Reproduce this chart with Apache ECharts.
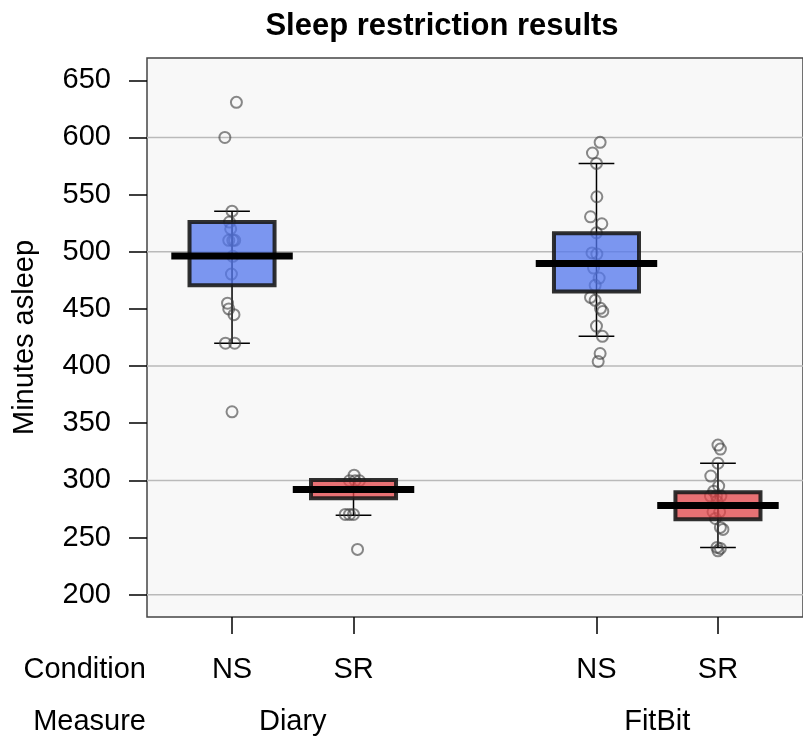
<!DOCTYPE html>
<html><head><meta charset="utf-8">
<script src="https://cdn.jsdelivr.net/npm/echarts@6/dist/echarts.min.js"></script>
<style>html,body{margin:0;padding:0;background:#fff}#c{width:803px;height:738px}</style>
</head><body><div id="c"></div>
<script>
// ---- data ----
const positions = [1, 2, 4, 5];
const conditions = ['NS', 'SR', 'NS', 'SR'];
const measures = ['Diary', 'FitBit'];
const measurePositions = [1.5, 4.5];
const yTicks = [200, 250, 300, 350, 400, 450, 500, 550, 600, 650];
const gridValues = [200, 300, 400, 500, 600];

const boxLow = [470.6, 284.3, 465.3, 266.0];
const boxHigh = [526.0, 300.3, 516.3, 289.7];
const medians = [496.2, 292.1, 489.8, 278.1];
const whiskerLow = [420.0, 269.6, 426.0, 241.4];
const whiskerHigh = [535.5, 300.0, 577.3, 315.0];

const nsDiary = [630.7, 600, 535.5, 526, 520, 510, 510, 510, 496, 480.5, 455, 450, 445, 420, 420, 360];
const nsDiaryJitter = [0.036, -0.059, 0, -0.021, -0.011, -0.027, 0.022, 0.006, 0.006, -0.005, -0.037, -0.027, 0.016, -0.054, 0.022, 0];
const srDiary = [304.6, 299.7, 299.7, 299.7, 270.2, 270.2, 270.2, 239.6];
const srDiaryJitter = [0.005, -0.033, 0.013, 0.049, -0.068, -0.033, 0, 0.033];
const nsFitBit = [595.7, 586.4, 577.3, 548.1, 530.6, 524.5, 516.6, 499, 498, 485.7, 477, 470.6, 460.1, 457.5, 450.5, 447.8, 435, 426, 411, 404];
const nsFitBitJitter = [0.030, -0.033, 0, 0.003, -0.049, 0.044, 0, -0.037, 0.003, -0.024, 0.022, -0.011, -0.049, -0.011, 0.033, 0.052, 0, 0.049, 0.030, 0.014];
const srFitBit = [330.9, 327.4, 315, 303.8, 295, 290.6, 286.3, 286.3, 286.3, 281.7, 272.5, 272.5, 266.7, 258.9, 257.1, 241.4, 240.5, 238.4];
const srFitBitJitter = [0, 0.020, 0, -0.059, 0.006, -0.035, -0.062, -0.013, 0.024, -0.008, -0.041, 0.014, -0.021, 0.020, 0.041, -0.008, 0.020, 0];

const groupValues = [nsDiary, srDiary, nsFitBit, srFitBit];
const groupJitter = [nsDiaryJitter, srDiaryJitter, nsFitBitJitter, srFitBitJitter];
const conditionColors = { NS: 'rgba(82,118,238,0.75)', SR: 'rgba(227,68,72,0.75)' };

// ---- build ----
const FONT = '"Liberation Sans", Arial, Helvetica, sans-serif';
const FS = 29;
const pointData = [];
groupValues.forEach((vals, g) => vals.forEach((v, i) => pointData.push([positions[g] + groupJitter[g][i], v])));
const statData = positions.map((p, i) => [p, boxLow[i], boxHigh[i], medians[i], whiskerLow[i], whiskerHigh[i], i]);

const chart = echarts.init(document.getElementById('c'), null, { renderer: 'canvas' });
const option = {
  animation: false,
  backgroundColor: '#ffffff',
  textStyle: { fontFamily: FONT },
  grid: { left: 147, top: 58, width: 663, height: 559, show: true, backgroundColor: '#f8f8f8', borderColor: '#444', borderWidth: 1.5 },
  graphic: [
    { type: 'text', x: 442, y: 26, style: { text: 'Sleep restriction results', font: 'bold 31px ' + FONT, fill: '#000', textAlign: 'center', textVerticalAlign: 'middle' } },
    { type: 'text', x: 146, y: 670, style: { text: 'Condition', font: FS + 'px ' + FONT, fill: '#000', textAlign: 'right', textVerticalAlign: 'middle' } },
    { type: 'text', x: 146, y: 722, style: { text: 'Measure', font: FS + 'px ' + FONT, fill: '#000', textAlign: 'right', textVerticalAlign: 'middle' } }
  ],
  xAxis: [
    {
      type: 'value', min: 0.3, max: 5.7, position: 'bottom',
      axisLine: { show: false },
      splitLine: { show: false },
      axisTick: { show: true, customValues: positions, length: 17, lineStyle: { color: '#000', width: 1.5 } },
      axisLabel: { show: true, customValues: positions, margin: 38, fontSize: FS, lineHeight: FS, color: '#000', fontFamily: FONT,
        formatter: v => conditions[positions.indexOf(v)] }
    },
    {
      type: 'value', min: 0.3, max: 5.7, position: 'bottom', offset: 52,
      axisLine: { show: false }, splitLine: { show: false }, axisTick: { show: false },
      axisLabel: { show: true, customValues: measurePositions, margin: 38, fontSize: FS, lineHeight: FS, color: '#000', fontFamily: FONT,
        formatter: v => measures[measurePositions.indexOf(v)] }
    }
  ],
  yAxis: {
    type: 'value', min: 180.5, max: 669.5,
    name: 'Minutes asleep', nameLocation: 'middle', nameGap: 108, nameRotate: 90,
    nameTextStyle: { fontSize: FS, color: '#000', fontFamily: FONT },
    axisLine: { show: false },
    splitLine: { show: false },
    axisTick: { show: true, customValues: yTicks, length: 18, lineStyle: { color: '#000', width: 1.5 } },
    axisLabel: { show: true, customValues: yTicks, margin: 36, fontSize: FS, color: '#000', fontFamily: FONT }
  },
  series: [
    {
      type: 'custom', name: 'grid', z: 1, silent: true,
      data: gridValues.map(v => [v]),
      renderItem: (params, api) => {
        const cs = params.coordSys;
        const y = api.coord([1, api.value(0)])[1];
        return { type: 'line', shape: { x1: cs.x, y1: y, x2: cs.x + cs.width, y2: y }, style: { stroke: '#bababa', lineWidth: 1.5 } };
      }
    },
    {
      type: 'custom', name: 'whiskers', z: 2, silent: true,
      data: statData,
      renderItem: (params, api) => {
        const p = api.value(0);
        const lo = api.coord([p, api.value(4)]);
        const hi = api.coord([p, api.value(5)]);
        const capL = api.coord([p - 0.147, 0])[0];
        const capR = api.coord([p + 0.147, 0])[0];
        const st = { stroke: '#000', lineWidth: 1.5 };
        return { type: 'group', children: [
          { type: 'line', shape: { x1: lo[0], y1: lo[1], x2: hi[0], y2: hi[1] }, style: st },
          { type: 'line', shape: { x1: capL, y1: lo[1], x2: capR, y2: lo[1] }, style: st },
          { type: 'line', shape: { x1: capL, y1: hi[1], x2: capR, y2: hi[1] }, style: st }
        ] };
      }
    },
    {
      type: 'scatter', name: 'points', z: 3, silent: true,
      data: pointData, symbol: 'circle', symbolSize: 11,
      itemStyle: { color: 'rgba(0,0,0,0)', borderColor: 'rgba(60,60,60,0.75)', borderWidth: 2 }
    },
    {
      type: 'custom', name: 'boxes', z: 4, silent: true,
      data: statData,
      renderItem: (params, api) => {
        const p = api.value(0);
        const tl = api.coord([p - 0.35, api.value(2)]);
        const br = api.coord([p + 0.35, api.value(1)]);
        const cond = conditions[api.value(6)];
        return { type: 'rect', shape: { x: tl[0], y: tl[1], width: br[0] - tl[0], height: br[1] - tl[1] },
          style: { fill: conditionColors[cond], stroke: 'rgba(25,25,25,0.9)', lineWidth: 4 } };
      }
    },
    {
      type: 'custom', name: 'medians', z: 5, silent: true,
      data: statData,
      renderItem: (params, api) => {
        const p = api.value(0);
        const l = api.coord([p - 0.5, api.value(3)]);
        const r = api.coord([p + 0.5, api.value(3)]);
        return { type: 'rect', shape: { x: l[0], y: l[1] - 3.5, width: r[0] - l[0], height: 7 }, style: { fill: '#000' } };
      }
    }
  ]
};
chart.setOption(option);
</script></body></html>
